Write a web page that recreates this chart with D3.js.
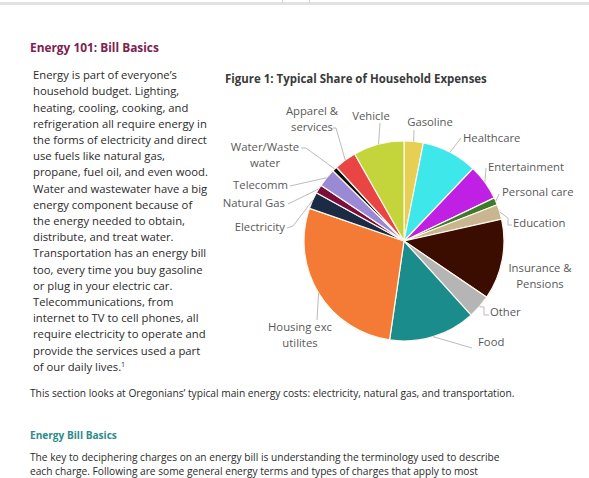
<!DOCTYPE html>
<html>
<head>
<meta charset="utf-8">
<script src="https://cdn.jsdelivr.net/npm/d3@7"></script>
<style>
  body { margin: 0; background: #fff; }
  svg { display: block; }
</style>
</head>
<body>
<div id="page"></div>
<script>
let W = 589, H = 478;

// chart data (percent of household budget)
let categories = ["Gasoline", "Healthcare", "Entertainment", "Personal care", "Education",
    "Insurance & Pensions", "Other", "Food", "Housing exc utilites", "Electricity",
    "Natural Gas", "Telecomm", "Water/Waste water", "Apparel & services", "Vehicle"];
let shares = [3.1, 9, 5.8, 1.2, 2.4, 13, 3.8, 14, 28, 2.7, 1.4, 3, 0.8, 3.6, 8.2];
let sliceColors = ["#e6cf52", "#3ee8ea", "#c01fe4", "#3c7a2c", "#c9b690",
    "#3b0d00", "#b5b5b5", "#1a8c8c", "#f47b35", "#1b2a45",
    "#7a0f3c", "#9a8ad6", "#0e0e0e", "#e94545", "#c4d53c"];
// how each label is written (line breaks)
let labelLines = [["Gasoline"], ["Healthcare"], ["Entertainment"], ["Personal care"], ["Education"],
    ["Insurance &", "Pensions"], ["Other"], ["Food"], ["Housing exc", "utilites"], ["Electricity"],
    ["Natural Gas"], ["Telecomm"], ["Water/Waste", "water"], ["Apparel &", "services"], ["Vehicle"]];

// label placement (x, first baseline, anchor) and leader bends
let labelPos = [
    [430, 126, "middle"], [463, 142, "start"], [488, 171, "start"], [502, 196, "start"],
    [513, 227, "start"], [540, 272, "middle"], [490, 316, "start"], [478, 346, "start"],
    [300, 331, "middle"], [285, 231, "end"], [285, 207, "end"], [288, 189, "end"],
    [265, 151, "middle"], [312, 115, "middle"], [371, 120, "middle"]];
let leaderBends = [
    [[414, 130]], [[461, 138]], [[486, 168]], [[499, 194]],
    [[508, 218], [508, 225], [512, 225]], null, [[484, 307], [484, 315], [489, 315]], [[472, 348]],
    [[317, 320]], [[293, 226], [287, 228]], [[288, 204]], [[290, 186]],
    [[306, 148], [301, 148]], [[336, 128], [333, 128]], [[380, 123]]];

let leftText = ["Energy is part of everyone\u2019s", "household budget. Lighting,",
    "heating, cooling, cooking, and", "refrigeration all require energy in",
    "the forms of electricity and direct", "use fuels like natural gas,",
    "propane, fuel oil, and even wood.", "Water and wastewater have a big",
    "energy component because of", "the energy needed to obtain,",
    "distribute, and treat water.", "Transportation has an energy bill",
    "too, every time you buy gasoline", "or plug in your electric car.",
    "Telecommunications, from", "internet to TV to cell phones, all",
    "require electricity to operate and", "provide the services used a part",
    "of our daily lives."];

let font = "'Open Sans', 'Noto Sans', sans-serif";

let svg = d3.select("#page")
    .append("svg")
    .attr("width", W)
    .attr("height", H);

svg.append("rect").attr("width", W).attr("height", H).attr("fill", "#fff");

// top toolbar strip
svg.append("rect").attr("x", 0).attr("y", 2).attr("width", W).attr("height", 3).attr("fill", "#e2e2e2");
svg.append("rect").attr("x", 282).attr("y", 0).attr("width", 1).attr("height", 3).attr("fill", "#d6d6d6");
svg.append("rect").attr("x", 309).attr("y", 0).attr("width", 1).attr("height", 3).attr("fill", "#d6d6d6");

//scale a text's font size so its width matches the picture
function fitText(sel, target, size) {
    sel.style("font-size", size + "px");
    let w = 0;
    sel.each(function() { w = Math.max(w, this.getComputedTextLength()); });
    if (w > 0) sel.style("font-size", (size * target / w) + "px");
}

let heading = svg.append("text")
    .attr("x", 30).attr("y", 52)
    .attr("fill", "#7a2350")
    .style("font-family", font).style("font-weight", "bold")
    .text("Energy 101: Bill Basics");
fitText(heading, 129, 14);

// left column paragraph
let body = svg.append("g").attr("class", "body");
let bodyLines = body.selectAll("text")
    .data(leftText)
    .enter()
    .append("text")
    .attr("x", 33)
    .attr("y", (d, i) => 79.3 + i * 16.19)
    .attr("fill", "#2a2a2a")
    .style("font-family", font)
    .text(d => d);
fitText(bodyLines.filter((d, i) => i === 3), 174, 12);
bodyLines.style("font-size", bodyLines.filter((d, i) => i === 3).style("font-size"));
// footnote mark
body.select("text:last-child").append("tspan")
    .attr("dy", -4).style("font-size", "7px").text("1");

// figure title
let title = svg.append("text")
    .attr("x", 225).attr("y", 83)
    .attr("fill", "#3a3a3a")
    .style("font-family", font).style("font-weight", "bold")
    .text("Figure 1: Typical Share of Household Expenses");
fitText(title, 262, 12);

// pie
let cx = 404, cy = 241, R = 100;
let pieData = categories.map((c, i) => ({name: c, value: shares[i], i: i}));
let pie = d3.pie().sort(null).value(d => d.value);
let arc = d3.arc().innerRadius(0).outerRadius(R);
let edge = d3.arc().innerRadius(R).outerRadius(R);
let arcs = pie(pieData);

let g = svg.append("g").attr("transform", "translate(" + cx + "," + cy + ")");
g.selectAll("path.slice")
    .data(arcs)
    .enter()
    .append("path")
    .attr("class", "slice")
    .attr("d", arc)
    .style("fill", d => sliceColors[d.data.i])
    .style("stroke", "#fdf8ee")
    .style("stroke-width", "1.2");

// leader lines
let line = d3.line();
svg.append("g").selectAll("path")
    .data(arcs.filter(d => leaderBends[d.data.i]))
    .enter()
    .append("path")
    .attr("d", d => {
        let p = edge.centroid(d);
        let pts = [[cx + p[0], cy + p[1]]].concat(leaderBends[d.data.i]);
        return line(pts);
    })
    .style("fill", "none")
    .style("stroke", "#a9a9a9")
    .style("stroke-width", "0.8");

// labels
let labels = svg.append("g").selectAll("text")
    .data(arcs)
    .enter()
    .append("text")
    .attr("x", d => labelPos[d.data.i][0])
    .attr("y", d => labelPos[d.data.i][1])
    .attr("text-anchor", d => labelPos[d.data.i][2])
    .attr("fill", "#595959")
    .style("font-family", font);
labels.selectAll("tspan")
    .data(d => labelLines[d.data.i].map(t => ({t: t, x: labelPos[d.data.i][0]})))
    .enter()
    .append("tspan")
    .attr("x", d => d.x)
    .attr("dy", (d, i) => i ? 15.5 : 0)
    .text(d => d.t);
let housing = labels.filter(d => d.data.i === 8);
housing.style("font-size", "11px");
let hw = housing.select("tspan").node().getComputedTextLength();
labels.style("font-size", (11 * 64 / hw) + "px");

// text below the figure
let para = svg.append("text")
    .attr("x", 30).attr("y", 396.5)
    .attr("fill", "#2a2a2a")
    .style("font-family", font)
    .text("This section looks at Oregonians\u2019 typical main energy costs: electricity, natural gas, and transportation.");
fitText(para, 485, 12);

let sub = svg.append("text")
    .attr("x", 30).attr("y", 438.5)
    .attr("fill", "#2e8b8b")
    .style("font-family", font).style("font-weight", "bold")
    .text("Energy Bill Basics");
fitText(sub, 87, 11);

let p2 = svg.append("g").selectAll("text")
    .data(["The key to deciphering charges on an energy bill is understanding the terminology used to describe",
        "each charge. Following are some general energy terms and types of charges that apply to most"])
    .enter()
    .append("text")
    .attr("x", 30)
    .attr("y", (d, i) => 460.5 + i * 14)
    .attr("fill", "#2a2a2a")
    .style("font-family", font)
    .text(d => d);
fitText(p2.filter((d, i) => i === 0), 470, 12);
p2.style("font-size", p2.filter((d, i) => i === 0).style("font-size"));
</script>
</body>
</html>
